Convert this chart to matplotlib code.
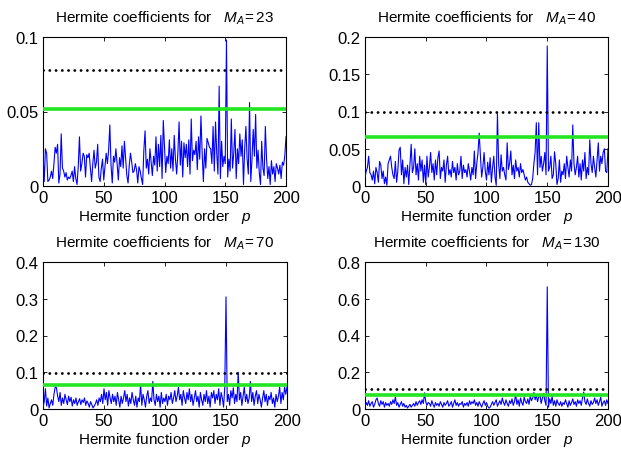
import matplotlib
matplotlib.use("Agg")
import matplotlib.pyplot as plt
from matplotlib.ticker import FuncFormatter

plt.rcParams['font.family'] = ['Liberation Sans', 'DejaVu Sans']
plt.rcParams['mathtext.fontset'] = 'custom'
plt.rcParams['mathtext.rm'] = 'Liberation Sans'
plt.rcParams['mathtext.it'] = 'Liberation Sans:italic'
plt.rcParams['mathtext.bf'] = 'Liberation Sans:bold'

p = list(range(201))

coef_23 = [
    .022, .003, .025, .022, .003, .004, .006, .010, .005, .015,
    .026, .022, .028, .002, .008, .035, .012, .010, .006, .009,
    .004, .006, .005, .007, .010, .003, .013, .005, .001, .013,
    .033, .010, .015, .022, .020, .006, .021, .019, .022, .012,
    .003, .015, .024, .012, .016, .028, .006, .003, .012, .018,
    .004, .013, .022, .015, .024, .041, .014, .002, .020, .016,
    .025, .015, .004, .019, .013, .027, .012, .030, .018, .007,
    .002, .014, .022, .016, .009, .010, .015, .011, .002, .013,
    .010, .005, .001, .024, .037, .012, .018, .008, .025, .016,
    .007, .020, .014, .033, .010, .028, .013, .034, .005, .044,
    .027, .009, .020, .015, .031, .012, .025, .010, .034, .018,
    .008, .022, .043, .014, .030, .006, .029, .019, .028, .013,
    .031, .008, .045, .017, .024, .021, .030, .011, .033, .018,
    .047, .022, .003, .025, .012, .032, .029, .026, .025, .015,
    .040, .010, .043, .022, .008, .067, .005, .030, .013, .020,
    .015, .098, .006, .018, .010, .045, .012, .022, .038, .005,
    .025, .015, .035, .020, .031, .001, .025, .040, .018, .008,
    .056, .003, .018, .038, .020, .048, .012, .024, .009, .001,
    .030, .012, .007, .040, .018, .005, .013, .001, .017, .008,
    .013, .003, .015, .012, .008, .014, .005, .016, .014, .020,
    .033]

coef_40 = [
    .012, .020, .025, .040, .018, .015, .008, .020, .003, .025,
    .018, .005, .033, .028, .010, .020, .003, .012, .001, .030,
    .035, .040, .025, .015, .010, .033, .005, .020, .048, .052,
    .015, .035, .003, .025, .012, .028, .002, .030, .056, .018,
    .025, .050, .015, .030, .008, .040, .020, .035, .005, .028,
    .002, .040, .012, .025, .045, .018, .030, .008, .035, .015,
    .038, .047, .010, .025, .020, .035, .005, .028, .040, .015,
    .022, .012, .033, .018, .025, .008, .030, .015, .020, .040,
    .010, .028, .018, .022, .012, .030, .020, .008, .025, .015,
    .047, .010, .030, .045, .071, .040, .012, .025, .045, .020,
    .008, .032, .015, .038, .005, .025, .040, .012, .001, .097,
    .030, .010, .042, .020, .025, .015, .008, .058, .022, .030,
    .047, .015, .028, .010, .035, .020, .025, .012, .030, .018,
    .022, .015, .008, .012, .005, .003, .001, .002, .010, .030,
    .045, .085, .015, .085, .025, .040, .020, .030, .045, .015,
    .188, .020, .025, .040, .010, .015, .046, .030, .002, .010,
    .035, .005, .020, .015, .030, .010, .040, .025, .012, .035,
    .020, .082, .030, .015, .025, .040, .012, .030, .008, .035,
    .020, .045, .010, .025, .015, .062, .030, .018, .040, .025,
    .012, .035, .058, .020, .040, .030, .045, .050, .020, .018,
    .050]

coef_70 = [
    .005, .020, .055, .008, .030, .003, .015, .025, .010, .040,
    .060, .058, .035, .020, .045, .010, .030, .015, .040, .025,
    .012, .035, .020, .032, .008, .025, .015, .030, .010, .020,
    .028, .012, .025, .018, .030, .010, .022, .015, .005, .020,
    .012, .003, .008, .015, .025, .010, .030, .020, .040, .015,
    .055, .025, .045, .010, .050, .030, .015, .040, .020, .035,
    .010, .045, .025, .005, .035, .015, .030, .050, .020, .040,
    .008, .030, .015, .045, .025, .010, .035, .005, .030, .020,
    .068, .010, .040, .025, .005, .035, .050, .015, .030, .020,
    .075, .025, .010, .040, .020, .035, .005, .045, .015, .030,
    .020, .040, .010, .035, .025, .045, .015, .030, .050, .020,
    .035, .059, .025, .040, .010, .050, .030, .015, .045, .025,
    .055, .020, .040, .010, .030, .050, .020, .035, .005, .045,
    .025, .010, .040, .020, .050, .015, .035, .005, .045, .030,
    .050, .015, .040, .025, .055, .010, .045, .030, .005, .060,
    .305, .020, .040, .010, .050, .030, .058, .015, .040, .020,
    .100, .025, .045, .010, .035, .060, .020, .040, .015, .030,
    .075, .020, .045, .010, .035, .050, .015, .040, .025, .005,
    .030, .050, .020, .040, .010, .035, .025, .045, .015, .030,
    .005, .040, .020, .035, .060, .015, .045, .025, .060, .040,
    .060]

coef_130 = [
    .010, .035, .020, .045, .015, .030, .040, .010, .025, .050,
    .060, .030, .015, .045, .025, .040, .010, .035, .020, .030,
    .015, .040, .025, .050, .030, .065, .020, .035, .010, .025,
    .040, .015, .030, .010, .020, .005, .015, .025, .010, .020,
    .030, .015, .040, .020, .035, .045, .025, .050, .030, .088,
    .040, .020, .035, .030, .015, .045, .025, .010, .035, .020,
    .030, .015, .040, .025, .010, .035, .020, .030, .045, .015,
    .025, .040, .010, .030, .050, .020, .035, .015, .030, .025,
    .040, .010, .030, .020, .035, .015, .045, .025, .040, .030,
    .050, .020, .035, .015, .040, .025, .010, .030, .045, .020,
    .035, .015, .005, .010, .025, .040, .020, .035, .050, .015,
    .030, .045, .025, .060, .035, .020, .050, .030, .015, .045,
    .030, .055, .020, .040, .080, .025, .050, .015, .060, .035,
    .020, .065, .040, .030, .055, .025, .070, .045, .060, .090,
    .050, .075, .040, .065, .080, .030, .060, .085, .045, .020,
    .665, .010, .055, .030, .070, .020, .045, .015, .050, .030,
    .020, .040, .015, .035, .025, .050, .030, .010, .045, .020,
    .035, .055, .025, .040, .015, .050, .030, .045, .020, .060,
    .092, .040, .025, .055, .030, .015, .045, .025, .035, .060,
    .030, .050, .020, .040, .065, .015, .035, .045, .020, .050,
    .030]

M_A = ["23", "40", "70", "130"]
series = [coef_23, coef_40, coef_70, coef_130]
dotted_level = [0.078, 0.099, 0.099, 0.110]
green_level = [0.052, 0.066, 0.065, 0.075]
ylims = [0.1, 0.2, 0.4, 0.8]
yticks = [[0, 0.05, 0.1], [0, 0.05, 0.1, 0.15, 0.2],
          [0, 0.1, 0.2, 0.3, 0.4], [0, 0.2, 0.4, 0.6, 0.8]]
xticks = [0, 50, 100, 150, 200]

W, H = 621, 452
fig = plt.figure(figsize=(W / 100, H / 100), dpi=100)
boxes = [(43, 38, 286, 187), (365, 38, 608, 187),
         (43, 263, 287, 410), (365, 263, 608, 410)]

fmt = FuncFormatter(lambda v, pos: ('%g' % round(v, 4)))

for i in range(4):
    l, t, r, b = boxes[i]
    ax = fig.add_axes([l / W, 1 - b / H, (r - l) / W, (b - t) / H])
    ax.plot(p, series[i], color='#0000ff', lw=0.8, zorder=3)
    ax.plot([0, 200], [green_level[i]] * 2, color='#22e622', lw=2.6, zorder=4,
            solid_capstyle='butt')
    ax.plot([0, 200], [dotted_level[i]] * 2, color='black', lw=2.0, zorder=5,
            linestyle=(0, (0.05, 2.2)), dash_capstyle='round')
    ax.set_xlim(0, 200)
    ax.set_ylim(0, ylims[i])
    ax.set_xticks(xticks)
    ax.set_yticks(yticks[i])
    ax.yaxis.set_major_formatter(fmt)
    ax.tick_params(direction='in', top=True, right=True, length=3, width=0.6,
                   labelsize=12, pad=3)
    for s in ax.spines.values():
        s.set_linewidth(0.8)
    ax.set_title(r"Hermite coefficients for   $M_A\!\mathit{{=}%s}$" % M_A[i],
                 fontsize=11, pad=11)
    ax.set_xlabel(r"Hermite function order   $p$", fontsize=11, labelpad=1)

fig.savefig("out.png", dpi=100)
